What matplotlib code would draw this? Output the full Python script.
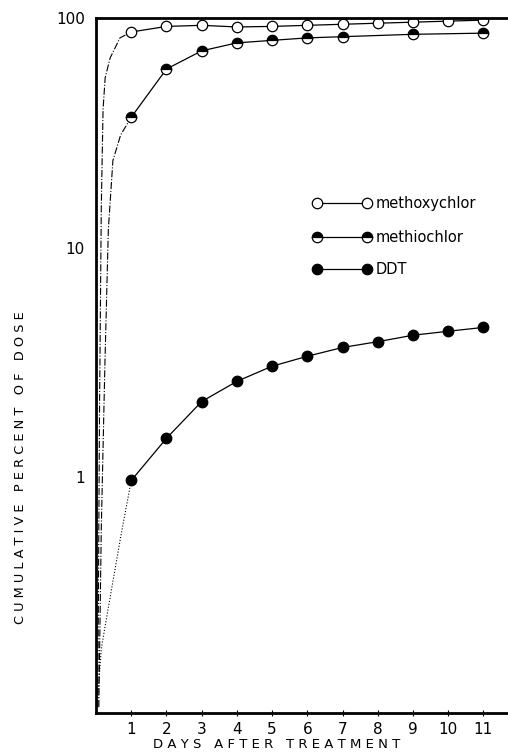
import matplotlib.pyplot as plt

# values (cumulative percent of dose)
days = [1, 2, 3, 4, 5, 6, 7, 8, 9, 10, 11]
methoxychlor = [87, 92, 93, 91.5, 92, 93, 94, 95, 96, 97, 98]
methiochlor_days = [1, 2, 3, 4, 5, 6, 7, 9, 11]
methiochlor = [37, 60, 72, 78, 80, 82, 83, 85, 86]
ddt = [0.97, 1.48, 2.14, 2.62, 3.05, 3.37, 3.68, 3.9, 4.16, 4.33, 4.5]

# early part of each fitted curve, between day 0 and day 1
methoxy_lead_x = [0.05, 0.1, 0.15, 0.2, 0.26, 0.4, 0.68, 1]
methoxy_lead_y = [0.1, 2, 15, 40, 55, 67, 82, 87]
methio_lead_x = [0.08, 0.15, 0.25, 0.35, 0.48, 0.7, 1]
methio_lead_y = [0.1, 0.6, 3, 12, 24, 31, 37]
ddt_lead_x = [0.03, 0.15, 0.4, 0.7, 1]
ddt_lead_y = [0.1, 0.18, 0.3, 0.55, 0.97]

xticks = list(range(1, 12))

fig = plt.figure(figsize=(5.08, 7.54), dpi=100)
ax = fig.add_axes([0.189, 0.054, 0.811, 0.922])
ax.set_yscale('log')
ax.set_ylim(0.094, 100)
ax.set_xlim(0, 11.7)

# fitted curves
ax.plot(methoxy_lead_x, methoxy_lead_y, color='black', lw=0.8, ls='-.')
ax.plot(methio_lead_x, methio_lead_y, color='black', lw=0.8, ls='-.')
ax.plot(ddt_lead_x, ddt_lead_y, color='black', lw=0.8, ls=':')
ax.plot(days, methoxychlor, color='black', lw=0.9)
ax.plot(methiochlor_days, methiochlor, color='black', lw=0.9)
ax.plot(days, ddt, color='black', lw=0.9)

# data points
ms = 7.5
ax.plot(days, methoxychlor, 'o', ms=ms, mfc='white', mec='black', mew=0.9)
ax.plot(methiochlor_days, methiochlor, 'o', ms=ms, mfc='black', mec='black',
        mew=0.9, fillstyle='top', markerfacecoloralt='white')
ax.plot(days, ddt, 'o', ms=ms, mfc='black', mec='black')

# legend drawn by hand
leg = [('methoxychlor', dict(mfc='white')),
       ('methiochlor', dict(mfc='black', fillstyle='top', markerfacecoloralt='white')),
       ('DDT', dict(mfc='black'))]
ly = [0.734, 0.685, 0.639]
for (name, style), y in zip(leg, ly):
    ax.plot([0.536, 0.658], [y, y], '-', color='black', lw=0.9,
            transform=ax.transAxes, clip_on=False)
    ax.plot([0.536, 0.658], [y, y], 'o', ms=ms, mec='black', mew=0.9,
            transform=ax.transAxes, clip_on=False, **style)
    ax.text(0.678, y, name, transform=ax.transAxes, va='center', ha='left',
            fontsize=10.5)

ax.set_xticks(xticks)
ax.set_xticklabels([str(d) for d in xticks])
ax.set_yticks([1, 10, 100])
ax.set_yticklabels(['1', '10', '100'])
ax.yaxis.set_minor_locator(plt.NullLocator())
ax.tick_params(axis='x', direction='inout', length=5, labelsize=11, pad=4)
ax.tick_params(axis='y', length=0, labelsize=11, pad=8)

for side in ['left', 'bottom', 'top']:
    ax.spines[side].set_linewidth(2)
ax.spines['right'].set_visible(False)

fig.text(0.544, 0.012, 'D A Y S   A F T E R   T R E A T M E N T', fontsize=9.5,
         ha='center', va='center')
fig.text(0.04, 1 - 468 / 754, 'C U M U L A T I V E   P E R C E N T   O F   D O S E',
         fontsize=9.3, rotation=90, ha='center', va='center')

fig.savefig('out.png', dpi=100)
